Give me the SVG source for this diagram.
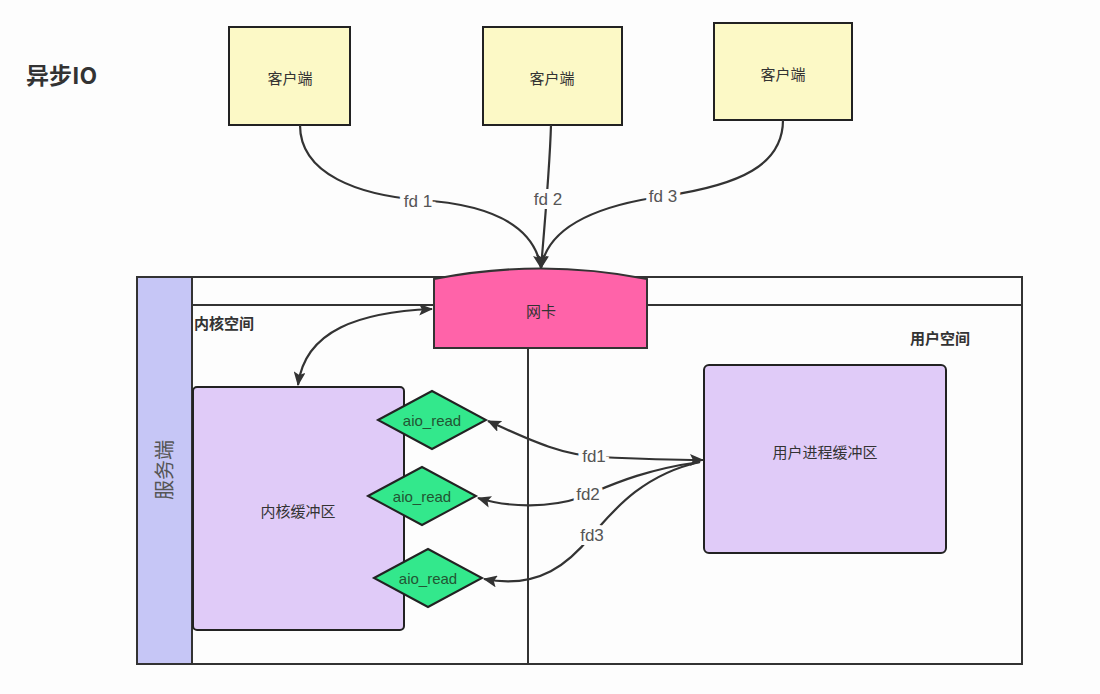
<svg xmlns="http://www.w3.org/2000/svg" width="1100" height="694" viewBox="0 0 1100 694">
<defs>
<marker id="ah" viewBox="0 0 14 12" refX="13" refY="6" markerWidth="14" markerHeight="12" markerUnits="userSpaceOnUse" orient="auto-start-reverse">
<path d="M0,0 L14,6 L0,12 L3,6 Z" fill="#333"/>
</marker>
</defs>
<style>
text{font-family:"Noto Sans CJK SC","Liberation Sans",sans-serif;fill:#333}
.box{stroke:#222;stroke-width:2}
.client{fill:#fcf9c6}
.buf{fill:#e0cbf8;stroke:#222;stroke-width:2}
.dia{fill:#33e88c;stroke:#222;stroke-width:2}
.edge{fill:none;stroke:#333;stroke-width:2.2}
.lbl{font-size:17px;fill:#555;stroke:#fdfdfd;stroke-width:8;paint-order:stroke;font-family:"Liberation Sans","Noto Sans CJK SC",sans-serif}
.c{text-anchor:middle;dominant-baseline:central;font-size:15px}
.dt{text-anchor:middle;dominant-baseline:central;font-size:15px;fill:#225533;font-family:"Liberation Sans",sans-serif}
</style>
<rect width="1100" height="694" fill="#fdfdfd"/>
<text x="26" y="84" font-size="23" font-weight="bold">异步IO</text>

<g id="frame">
<rect x="137" y="277" width="885" height="387" fill="#fdfdfd" stroke="#333" stroke-width="2"/>
<line x1="192" y1="305" x2="1022" y2="305" stroke="#333" stroke-width="2"/>
<line x1="528" y1="348" x2="528" y2="664" stroke="#333" stroke-width="2"/>
<text x="194" y="329" font-size="15" font-weight="bold">内核空间</text>
<text x="910" y="344" font-size="15" font-weight="bold">用户空间</text>
</g>
<g id="server">
<rect x="137" y="277" width="55" height="387" fill="#c6c6f6" stroke="#333" stroke-width="2"/>
<text class="c" transform="translate(163 470) rotate(-90)" style="font-size:20px;fill:#555">服务端</text>
</g>

<g id="client1"><rect class="box client" x="229" y="27" width="121" height="98"/><text class="c" x="290" y="77">客户端</text></g>
<g id="client2"><rect class="box client" x="483" y="27" width="139" height="98"/><text class="c" x="552" y="77">客户端</text></g>
<g id="client3"><rect class="box client" x="714" y="23" width="138" height="97"/><text class="c" x="783" y="73">客户端</text></g>

<g id="nic"><path d="M434 279 Q541 258 647 279 L647 348 L434 348 Z" fill="#ff63a9" stroke="#333" stroke-width="2"/><text class="c" x="541" y="310">网卡</text></g>

<g id="kbuf"><rect class="buf" x="193" y="387" width="211" height="243" rx="4"/><text class="c" x="298" y="510">内核缓冲区</text></g>
<g id="ubuf"><rect class="buf" x="704" y="365" width="242" height="188" rx="5"/><text class="c" x="825" y="451">用户进程缓冲区</text></g>

<g id="aio1"><path class="dia" d="M378 420 L432 391 L486 420 L432 449 Z"/><text class="dt" x="432" y="420">aio_read</text></g>
<g id="aio2"><path class="dia" d="M368 496 L422 467 L476 496 L422 525 Z"/><text class="dt" x="422" y="496">aio_read</text></g>
<g id="aio3"><path class="dia" d="M374 578 L428 549 L482 578 L428 607 Z"/><text class="dt" x="428" y="578">aio_read</text></g>

<g id="connectors">
<path class="edge" d="M300 125 C300 175 360 195 420 200 C500 205 535 230 541 268" marker-end="url(#ah)"/>
<path class="edge" d="M551 125 C550 160 546 210 541 268" marker-end="url(#ah)"/>
<path class="edge" d="M783 120 C783 165 740 185 665 196 C600 205 548 225 541 268" marker-end="url(#ah)"/>
<path class="edge" d="M432 309 C360 312 305 330 298 385" marker-start="url(#ah)" marker-end="url(#ah)"/>
<path class="edge" d="M488 421 C530 440 560 455 600 457 C640 459 670 460 703 460" marker-start="url(#ah)" marker-end="url(#ah)"/>
<path class="edge" d="M700 462 C640 470 605 488 582 497 C550 508 510 508 478 498" marker-end="url(#ah)"/>
<path class="edge" d="M700 462 C640 475 610 515 592 535 C570 562 540 590 484 579" marker-end="url(#ah)"/>
<text class="lbl" x="418" y="207" text-anchor="middle">fd 1</text>
<text class="lbl" x="548" y="205" text-anchor="middle">fd 2</text>
<text class="lbl" x="663" y="202" text-anchor="middle">fd 3</text>
<text class="lbl" x="594" y="462" text-anchor="middle">fd1</text>
<text class="lbl" x="588" y="500" text-anchor="middle">fd2</text>
<text class="lbl" x="592" y="541" text-anchor="middle">fd3</text>
</g>
</svg>
